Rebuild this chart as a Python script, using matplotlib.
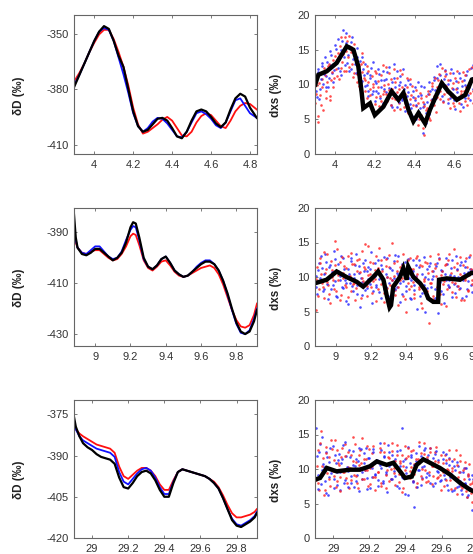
import numpy as np
import matplotlib
matplotlib.use("Agg")
import matplotlib.pyplot as plt
from matplotlib.ticker import FormatStrFormatter

plt.rcParams['font.family'] = ['Liberation Sans', 'DejaVu Sans']

# ---------------- Row 1 (depth ~4 m) ----------------
x1 = [3.896, 3.925, 3.95, 3.975, 4.0, 4.025, 4.05, 4.075, 4.1, 4.125, 4.15, 4.175, 4.2,
      4.225, 4.25, 4.275, 4.3, 4.325, 4.35, 4.375, 4.4, 4.425, 4.45, 4.475, 4.5, 4.525,
      4.55, 4.575, 4.6, 4.625, 4.65, 4.675, 4.7, 4.725, 4.75, 4.775, 4.8, 4.835]
dD1_black = [-379, -372, -366, -360, -354, -349, -346, -347.5, -354, -362, -368, -380, -392,
             -400, -403, -402, -399, -396, -395.5, -397, -401, -405.5, -406.5, -403, -397, -392,
             -391, -392, -395, -398.5, -400.5, -398, -391, -385, -382.5, -384, -390, -395.5]
dD1_red = [-376, -371, -366, -360, -355, -350.5, -348, -348, -353, -360, -368, -378, -390,
           -399, -404, -403, -401, -399, -396.5, -395, -397, -401, -405, -405.5, -403, -398,
           -394.5, -393, -394, -397, -400, -401, -397, -392, -389, -387.5, -388, -391]
dD1_blue = [-378, -372, -366, -360, -354, -349, -347, -348, -354, -363, -372, -382, -393,
            -400, -403, -401, -397.5, -395.5, -396, -398.5, -402, -405.5, -406, -403, -398, -393,
            -392, -393.5, -396, -399.5, -401, -398, -392, -386, -385, -389, -393, -395.5]

dxs1_line_x = [3.9, 3.916, 3.958, 4.008, 4.059, 4.092, 4.117, 4.134, 4.142, 4.176, 4.2, 4.243,
               4.285, 4.319, 4.344, 4.369, 4.394, 4.42, 4.453, 4.478, 4.537, 4.57, 4.613, 4.655,
               4.688, 4.72]
dxs1_line = [10.0, 11.4, 11.9, 13.1, 15.5, 15.0, 12.6, 8.8, 6.6, 7.3, 5.6, 6.8, 9.0, 7.8, 8.8,
             6.4, 4.7, 5.9, 4.4, 6.4, 10.2, 9.0, 7.8, 8.5, 10.7, 11.0]
dxs1_blue = [10.5, 8.2, 11.8, 9.4, 12.6, 10.1, 13.9, 11.2, 9.6, 12.8, 14.3, 10.4, 12.1,
             15.1, 12.4, 13.7, 11.3, 16.2, 14.0, 17.4, 13.1, 15.6, 12.2, 16.8, 14.5,
             12.9, 15.2, 11.0, 13.4, 10.5, 12.3, 9.8, 11.6, 8.4, 10.9, 12.4, 9.1, 7.6,
             10.2, 8.8, 11.5, 9.6, 7.4, 10.7, 8.9, 11.8, 9.5, 7.1, 10.3, 12.9,
             8.6, 6.7, 9.9, 11.2, 7.8, 9.3, 6.2, 8.4, 10.6, 7.2, 5.5, 9.0, 7.7,
             5.1, 8.3, 6.6, 9.8, 3.0, 7.2, 5.9, 8.6, 10.3, 6.9, 9.4, 11.1, 8.0,
             12.6, 9.7, 11.4, 8.3, 10.8, 12.1, 9.2, 7.4, 10.6, 8.7, 11.6, 6.5,
             9.5, 7.9, 10.9, 8.2, 6.8, 9.9, 11.3, 8.5, 10.1, 12.4, 9.3, 11.7]
dxs1_blue_b = [9.1, 12.2, 7.9, 10.8, 13.1, 11.5, 9.7, 13.3, 10.9, 14.8, 11.6, 13.0, 15.7,
               13.5, 16.5, 12.0, 14.9, 17.8, 12.8, 15.9, 14.2, 11.9, 16.1, 13.6, 15.0,
               11.7, 13.9, 12.1, 10.2, 14.0, 11.3, 12.9, 10.0, 9.1, 11.4, 8.7, 13.2, 10.5,
               9.0, 12.2, 8.1, 10.6, 11.9, 9.3, 10.8, 8.2, 12.5, 9.0, 6.8, 11.0,
               9.6, 11.9, 7.5, 10.3, 8.1, 12.3, 9.9, 7.0, 8.9, 10.1, 6.6, 8.2, 9.6,
               7.0, 10.4, 6.1, 8.5, 6.8, 9.7, 4.5, 7.5, 5.8, 9.0, 7.9, 10.7, 9.2,
               11.0, 8.8, 12.9, 10.0, 7.6, 9.9, 11.5, 10.1, 8.0, 12.2, 9.3, 7.7,
               10.5, 8.9, 11.7, 7.2, 9.8, 10.7, 8.1, 12.0, 9.6, 7.8, 10.9, 12.8]
dxs1_red = [7.3, 9.9, 4.6, 8.5, 10.8, 6.4, 11.3, 9.1, 12.6, 8.3, 10.7, 13.5, 11.0,
            12.2, 14.6, 10.8, 16.9, 13.3, 11.9, 14.8, 16.3, 12.5, 15.4, 13.0, 11.6,
            14.1, 10.4, 12.7, 9.3, 11.8, 13.2, 10.6, 8.1, 11.9, 9.4, 7.0, 10.1, 12.0,
            8.2, 9.7, 6.9, 11.3, 8.7, 10.0, 12.5, 7.6, 9.2, 10.8, 8.0, 6.3,
            10.4, 8.9, 7.3, 12.1, 9.6, 6.8, 8.7, 10.9, 5.9, 7.9, 9.8, 4.6, 8.1,
            6.9, 4.2, 8.8, 5.6, 7.5, 2.8, 6.3, 9.1, 5.2, 7.7, 10.2, 8.4, 6.1,
            9.6, 11.5, 7.9, 10.3, 8.6, 12.0, 8.9, 10.7, 6.6, 9.5, 7.3, 11.0,
            8.1, 10.4, 6.2, 9.0, 11.8, 7.6, 9.7, 8.0, 12.2, 10.5, 7.4, 9.6]
dxs1_red_b = [8.6, 5.5, 10.2, 7.1, 9.6, 12.4, 8.0, 10.4, 13.0, 7.7, 11.8, 9.6, 14.1,
              11.2, 13.8, 15.5, 12.4, 14.4, 16.8, 12.0, 13.9, 17.0, 14.7, 11.1, 15.8,
              13.6, 11.5, 9.8, 12.9, 14.6, 10.9, 9.0, 12.6, 10.3, 8.5, 11.2, 9.6, 7.2,
              11.7, 10.5, 8.4, 7.6, 12.8, 9.1, 8.6, 10.1, 11.6, 7.0, 9.4, 12.2,
              7.9, 10.9, 9.3, 6.5, 11.5, 8.3, 7.4, 9.6, 6.0, 10.8, 8.5, 7.0, 5.3,
              9.2, 7.3, 5.0, 8.0, 3.8, 6.9, 8.4, 6.6, 8.7, 4.9, 9.8, 7.1, 10.9,
              8.2, 10.6, 9.0, 12.4, 7.5, 11.2, 9.8, 7.9, 11.6, 8.4, 10.2, 6.9,
              9.4, 11.9, 7.4, 8.6, 10.5, 9.0, 11.4, 7.0, 10.0, 8.8, 12.5, 9.1]
dxs1_depth = np.linspace(3.900, 4.700, 100)
dxs1_depth_b = np.linspace(3.904, 4.696, 100)

# ---------------- Row 2 (depth ~9 m) ----------------
x2 = [8.88, 8.89, 8.9, 8.925, 8.95, 8.975, 9.0, 9.025, 9.05, 9.075, 9.1, 9.125, 9.15, 9.175,
      9.2, 9.215, 9.23, 9.25, 9.275, 9.3, 9.325, 9.35, 9.375, 9.4, 9.425, 9.45, 9.475, 9.5,
      9.525, 9.55, 9.575, 9.6, 9.625, 9.65, 9.675, 9.7, 9.725, 9.75, 9.775, 9.8, 9.825, 9.85,
      9.875, 9.9, 9.917]
dD2_black = [-383, -392, -396, -398.5, -399, -398, -396.5, -396.5, -398, -399.5, -401, -400, -398,
             -394, -388, -386, -386.5, -392, -400, -403.5, -404.5, -403, -400.5, -399.5, -402,
             -405, -406.5, -407.5, -407, -405.5, -404, -402.5, -401.5, -401.5, -402.5, -405, -409,
             -414, -420, -425.5, -429, -430, -429, -425, -420.5]
dD2_red = [-393, -394, -396, -398, -398.5, -397.5, -397, -397, -398.5, -400, -401, -400.5, -398.5,
           -395.5, -391.5, -390.5, -391, -395, -401, -404, -405, -403.5, -401.5, -401, -403,
           -405.5, -407, -407.5, -407, -406, -405, -404, -403.5, -403, -404, -406.5, -410.5,
           -415.5, -420.5, -424.5, -427, -427.5, -426.5, -422.5, -418]
dD2_blue = [-390, -393, -396, -398, -398.5, -397, -395.5, -395.5, -397.5, -399.5, -400.5, -400,
            -397.5, -393, -389, -387.5, -388, -393, -400.5, -403.5, -404.5, -403, -400.5, -399.5,
            -402, -405, -406.5, -407.5, -407, -405.5, -403.5, -402, -401, -401, -402.5, -405,
            -409, -414.5, -420.5, -426, -429.5, -430, -428.5, -424, -420]

dxs2_line_x = [8.881, 8.947, 9.004, 9.06, 9.118, 9.155, 9.212, 9.24, 9.27, 9.288, 9.305, 9.313,
               9.326, 9.364, 9.383, 9.402, 9.411, 9.44, 9.478, 9.506, 9.525, 9.553, 9.581,
               9.586, 9.629, 9.705, 9.771, 9.8]
dxs2_line = [9.1, 9.6, 10.8, 10.0, 9.3, 8.6, 10.0, 10.8, 9.6, 7.4, 5.6, 5.9, 8.6, 10.0, 11.3,
             9.6, 11.5, 10.0, 9.1, 8.1, 6.9, 6.4, 6.4, 9.6, 9.8, 9.6, 10.6, 10.6]
dxs2_blue = [10.2, 7.6, 12.1, 9.4, 11.3, 8.2, 13.4, 9.9, 6.8, 11.7,
             10.5, 8.9, 12.6, 7.3, 10.8, 9.6, 13.0, 8.4, 11.1, 9.2,
             6.1, 10.4, 12.3, 8.7, 9.9, 11.8, 7.5, 10.6, 5.6, 9.3,
             12.0, 8.1, 10.9, 11.5, 9.0, 13.6, 7.9, 10.2, 8.6, 12.4,
             9.7, 6.9, 11.2, 8.3, 10.5, 12.7, 9.1, 7.2, 11.0, 9.8,
             13.2, 8.5, 10.3, 6.4, 11.9, 9.4, 12.2, 8.0, 10.7, 7.0,
             9.5, 12.5, 8.8, 10.1, 5.3, 11.4, 9.0, 7.7, 12.9, 10.0,
             8.4, 11.6, 6.6, 9.7, 10.9, 8.2, 12.1, 4.8, 9.3, 11.0,
             7.6, 10.4, 12.8, 8.9, 9.6, 11.3, 7.1, 10.2, 13.1, 8.7,
             9.9, 11.7, 6.9, 10.6, 12.3, 8.3, 9.4, 11.1, 7.8, 10.5]
dxs2_blue_b = [8.6, 11.0, 9.8, 13.1, 7.9, 10.5, 12.2, 9.0, 11.4, 8.3,
               10.7, 13.7, 9.4, 7.1, 11.9, 10.1, 8.5, 12.8, 9.6, 6.5,
               11.2, 9.1, 12.7, 8.0, 10.4, 13.3, 8.8, 11.6, 9.9, 7.4,
               10.8, 12.5, 8.4, 9.7, 11.1, 6.3, 10.3, 12.1, 8.9, 10.9,
               7.8, 11.7, 9.3, 12.9, 8.6, 10.0, 6.0, 11.3, 9.5, 12.3,
               8.2, 10.6, 13.0, 9.1, 7.5, 11.5, 10.2, 8.7, 12.6, 9.8,
               6.8, 10.9, 8.1, 11.8, 9.4, 12.4, 7.3, 10.5, 8.9, 5.0,
               11.2, 9.7, 12.0, 8.5, 10.1, 7.0, 11.6, 9.2, 12.7, 8.0,
               10.8, 6.2, 9.5, 11.9, 8.6, 10.3, 12.5, 9.0, 7.7, 11.1,
               10.0, 8.4, 12.2, 9.6, 11.4, 7.2, 10.7, 12.9, 8.8, 11.0]
dxs2_red = [5.2, 11.4, 8.3, 12.8, 9.1, 7.0, 10.6, 13.3, 8.8, 6.3,
            11.0, 9.5, 15.2, 8.0, 10.3, 12.2, 7.4, 9.8, 11.6, 8.6,
            13.1, 10.0, 7.9, 11.9, 9.2, 6.7, 12.5, 8.9, 10.7, 13.8,
            9.4, 11.1, 7.2, 14.5, 10.4, 8.5, 12.0, 9.7, 6.5, 11.3,
            14.2, 9.0, 10.9, 7.7, 12.6, 8.4, 11.5, 9.9, 15.0, 10.1,
            8.1, 12.3, 6.0, 9.6, 11.8, 7.3, 10.5, 5.0, 9.2, 12.7,
            8.7, 11.2, 7.0, 10.0, 13.0, 8.3, 6.2, 11.6, 9.4, 7.8,
            12.1, 3.4, 9.1, 10.8, 6.8, 11.9, 8.5, 13.4, 7.5, 10.3,
            9.0, 11.7, 5.8, 12.4, 8.6, 10.6, 9.3, 14.0, 7.1, 11.0,
            8.2, 12.9, 10.2, 6.6, 9.8, 11.4, 8.0, 13.2, 9.6, 10.7]
dxs2_red_b = [9.7, 7.2, 12.0, 10.4, 8.6, 13.6, 11.1, 9.3, 7.5, 12.3,
              10.0, 8.2, 11.7, 14.0, 9.5, 6.6, 12.9, 10.6, 8.9, 11.3,
              7.1, 10.2, 13.5, 9.0, 11.9, 8.4, 10.8, 12.6, 6.9, 9.8,
              11.5, 14.8, 8.7, 10.3, 12.2, 7.7, 9.4, 11.0, 13.1, 8.3,
              10.7, 12.4, 9.2, 6.4, 11.6, 10.0, 13.2, 8.8, 9.6, 12.0,
              7.4, 10.9, 8.5, 11.4, 9.9, 13.4, 6.8, 10.1, 12.5, 8.2,
              11.1, 9.3, 7.6, 12.8, 10.4, 8.6, 11.8, 5.5, 9.7, 12.2,
              8.0, 10.6, 13.0, 9.1, 7.3, 11.3, 10.2, 8.9, 12.6, 6.1,
              10.8, 9.4, 11.9, 8.3, 13.3, 10.0, 7.8, 11.5, 9.2, 12.1,
              8.7, 10.5, 6.7, 11.8, 9.6, 12.7, 8.1, 10.3, 11.2, 9.0]
dxs2_depth = np.linspace(8.885, 9.780, 100)
dxs2_depth_b = np.linspace(8.889, 9.776, 100)

# ---------------- Row 3 (depth ~29 m) ----------------
x3 = [28.9, 28.91, 28.93, 28.95, 28.975, 29.0, 29.025, 29.05, 29.075, 29.1, 29.125, 29.15,
      29.175, 29.2, 29.225, 29.25, 29.275, 29.3, 29.325, 29.35, 29.375, 29.4, 29.425, 29.45,
      29.475, 29.5, 29.525, 29.55, 29.575, 29.6, 29.625, 29.65, 29.675, 29.7, 29.725, 29.75,
      29.775, 29.8, 29.825, 29.85, 29.875, 29.9, 29.912]
dD3_black = [-376, -379.5, -383, -385.5, -387, -388, -389.5, -390.5, -391, -391.5, -393, -398,
             -401.5, -402, -400, -397.5, -396, -395.5, -396.5, -399, -402.5, -405, -405, -400,
             -396, -395, -395.5, -396, -396.5, -397, -397.5, -398.5, -400, -402, -405.5, -409.5,
             -413.5, -415.5, -416, -415, -414, -412.5, -411]
dD3_red = [-378, -380.5, -382, -383, -384, -385, -386, -386.5, -387, -387.5, -389, -394, -397.5,
           -398.5, -397, -395.5, -394.5, -394.5, -395.5, -397.5, -400.5, -402.5, -402.5, -399,
           -396, -395, -395.5, -396, -396.5, -397, -397.5, -398.5, -399.5, -401.5, -404.5, -408,
           -411, -412.5, -412.5, -412, -411.5, -410.5, -409.5]
dD3_blue = [-377, -380.5, -383, -384.5, -385.5, -386.5, -387.5, -388, -388.5, -389, -390.5, -396,
            -399.5, -400.5, -398.5, -396.5, -395, -394.5, -395.5, -398, -401.5, -404, -404,
            -399.5, -396, -395, -395.5, -396, -396.5, -397, -397.5, -398.5, -400, -402, -405.5,
            -409.5, -413, -415, -415.5, -414.5, -413.5, -412, -410.5]

dxs3_line_x = [28.899, 28.927, 28.964, 29.019, 29.093, 29.148, 29.204, 29.241, 29.296, 29.333,
               29.37, 29.398, 29.435, 29.462, 29.499, 29.536, 29.591, 29.647, 29.702, 29.758,
               29.79]
dxs3_line = [8.45, 8.7, 10.15, 9.66, 9.9, 9.9, 10.4, 11.1, 10.6, 10.9, 9.66, 8.7, 8.9, 10.6,
             11.4, 10.9, 10.15, 9.2, 8.0, 7.0, 6.6]
dxs3_blue = [16.0, 9.2, 12.4, 7.8, 14.6, 10.3, 6.5, 11.7, 8.9, 13.1,
             10.0, 7.2, 12.0, 9.5, 11.3, 6.9, 10.8, 13.5, 8.4, 11.9,
             9.7, 12.8, 8.0, 10.6, 7.4, 11.4, 9.1, 13.0, 10.2, 8.6,
             12.3, 9.9, 7.1, 11.6, 10.4, 8.8, 12.9, 9.3, 11.0, 7.6,
             13.8, 10.1, 8.3, 11.8, 9.6, 6.7, 12.5, 10.7, 8.5, 11.2,
             9.0, 12.6, 7.3, 10.5, 16.0, 8.7, 11.5, 9.4, 6.2, 10.9,
             12.1, 8.1, 4.5, 11.1, 9.8, 13.3, 7.7, 10.3, 12.7, 8.9,
             11.4, 9.2, 13.0, 10.6, 7.5, 12.2, 9.7, 11.3, 8.2, 10.0,
             12.4, 8.6, 10.8, 7.0, 11.6, 9.3, 6.8, 10.4, 8.4, 11.0,
             7.6, 9.5, 6.4, 10.2, 8.0, 5.9, 9.1, 7.2, 4.0, 8.5]
dxs3_blue_b = [11.9, 7.1, 13.6, 9.8, 10.7, 8.2, 12.5, 6.2, 11.0, 9.4,
               13.3, 8.6, 10.9, 7.7, 12.2, 9.6, 11.5, 8.0, 13.9, 10.3,
               7.4, 11.8, 9.0, 12.6, 10.5, 8.3, 11.2, 6.8, 12.9, 9.5,
               10.8, 13.1, 8.7, 11.6, 7.3, 10.1, 12.4, 9.2, 11.3, 8.4,
               10.6, 12.8, 7.9, 11.9, 9.3, 13.5, 10.4, 8.6, 12.1, 9.7,
               11.4, 7.6, 10.0, 12.7, 8.8, 11.1, 6.4, 10.3, 13.2, 9.0,
               11.7, 8.2, 10.6, 12.3, 7.4, 9.9, 11.9, 8.7, 10.5, 13.0,
               9.4, 12.0, 8.0, 10.9, 11.6, 7.9, 12.6, 9.5, 10.2, 8.4,
               11.5, 9.1, 12.2, 7.7, 10.6, 8.9, 11.1, 6.9, 9.8, 7.4,
               10.4, 8.3, 6.9, 9.5, 7.8, 10.2, 6.3, 8.6, 7.1, 9.2]
dxs3_red = [8.4, 12.7, 7.0, 15.5, 10.5, 6.3, 13.2, 9.4, 11.8, 7.6,
            12.9, 9.0, 14.2, 8.2, 10.9, 6.8, 11.7, 9.6, 13.6, 8.7,
            10.3, 7.3, 12.1, 14.6, 9.2, 11.0, 7.9, 10.6, 12.8, 8.5,
            11.4, 9.8, 13.4, 7.5, 10.1, 12.3, 8.9, 6.9, 11.2, 9.5,
            13.0, 8.0, 10.8, 12.5, 7.2, 9.9, 11.6, 8.6, 13.7, 10.2,
            7.7, 12.0, 9.3, 11.1, 6.6, 10.4, 13.3, 8.8, 11.9, 9.7,
            12.6, 8.3, 10.7, 7.4, 11.5, 13.9, 9.0, 10.0, 12.2, 8.1,
            11.3, 9.5, 13.1, 7.8, 10.5, 12.4, 8.7, 11.0, 9.2, 6.9,
            10.9, 12.0, 8.4, 9.8, 11.4, 7.1, 10.2, 8.9, 12.7, 6.4,
            9.6, 11.2, 7.3, 8.5, 10.1, 6.0, 9.0, 7.8, 5.2, 8.3]
dxs3_red_b = [10.5, 8.0, 13.8, 9.2, 11.6, 6.9, 12.3, 10.1, 8.5, 14.2,
              9.7, 11.3, 7.4, 12.8, 10.6, 8.8, 13.0, 9.5, 11.9, 7.9,
              12.5, 10.2, 8.4, 11.1, 13.6, 9.0, 7.2, 12.0, 10.8, 14.5,
              8.6, 11.5, 9.9, 12.9, 7.8, 10.4, 13.3, 8.9, 11.0, 9.6,
              12.4, 7.5, 10.7, 13.8, 9.1, 11.8, 8.3, 10.0, 12.6, 9.4,
              11.2, 13.5, 8.1, 10.9, 12.1, 7.3, 9.8, 11.6, 13.1, 8.7,
              10.3, 12.8, 9.3, 11.4, 7.9, 10.8, 12.3, 8.5, 13.7, 9.9,
              11.7, 8.2, 12.5, 10.4, 9.0, 11.1, 13.2, 8.8, 10.1, 12.0,
              9.5, 7.6, 11.3, 10.0, 12.7, 8.4, 9.7, 11.5, 7.2, 10.6,
              8.9, 12.1, 7.5, 9.9, 11.0, 6.8, 9.3, 10.7, 6.5, 8.0]
dxs3_depth = np.linspace(28.905, 29.775, 100)
dxs3_depth_b = np.linspace(28.909, 29.771, 100)

rows = [
    dict(x=x1, k=dD1_black, r=dD1_red, b=dD1_blue, xlim=(3.896, 4.836), ylim=(-415, -340),
         yt=[-350, -380, -410], xt=[4, 4.2, 4.4, 4.6, 4.8],
         lx=dxs1_line_x, ly=dxs1_line,
         sd=(dxs1_depth, dxs1_depth_b), sb=(dxs1_blue, dxs1_blue_b), sr=(dxs1_red, dxs1_red_b),
         rxlim=(3.899, 4.84)),
    dict(x=x2, k=dD2_black, r=dD2_red, b=dD2_blue, xlim=(8.88, 9.917), ylim=(-434.7, -380.4),
         yt=[-390, -410, -430], xt=[9, 9.2, 9.4, 9.6, 9.8],
         lx=dxs2_line_x, ly=dxs2_line,
         sd=(dxs2_depth, dxs2_depth_b), sb=(dxs2_blue, dxs2_blue_b), sr=(dxs2_red, dxs2_red_b),
         rxlim=(8.881, 9.944)),
    dict(x=x3, k=dD3_black, r=dD3_red, b=dD3_blue, xlim=(28.9, 29.913), ylim=(-420, -369.8),
         yt=[-375, -390, -405, -420], xt=[29, 29.2, 29.4, 29.6, 29.8],
         lx=dxs3_line_x, ly=dxs3_line,
         sd=(dxs3_depth, dxs3_depth_b), sb=(dxs3_blue, dxs3_blue_b), sr=(dxs3_red, dxs3_red_b),
         rxlim=(28.899, 29.935)),
]

fig = plt.figure(figsize=(4.73, 5.54), dpi=100)
W, H = 473.0, 554.0
row_px = [(15, 154), (208, 346), (400, 538)]
spine_c = '#666666'
txt_c = '#333333'


def style(ax):
    for s in ax.spines.values():
        s.set_color(spine_c)
        s.set_linewidth(0.8)
    ax.tick_params(direction='in', length=2.5, width=0.6, color=spine_c,
                   labelsize=8, labelcolor=txt_c, top=True, right=True, pad=4)
    ax.xaxis.set_major_formatter(FormatStrFormatter('%g'))
    ax.yaxis.set_major_formatter(FormatStrFormatter('%g'))


for (top, bot), d in zip(row_px, rows):
    y0 = 1 - bot / H
    h = (bot - top) / H
    axl = fig.add_axes([74 / W, y0, 183 / W, h])
    axl.plot(d['x'], d['r'], color='#ff1010', lw=1.3)
    axl.plot(d['x'], d['b'], color='#1010ff', lw=1.3)
    axl.plot(d['x'], d['k'], color='black', lw=1.6)
    axl.set_xlim(*d['xlim'])
    axl.set_ylim(*d['ylim'])
    axl.set_xticks(d['xt'])
    axl.set_yticks(d['yt'])
    style(axl)
    axl.set_ylabel('δD (‰)', fontsize=8.5, fontweight='bold', color='#222222')
    axl.yaxis.set_label_coords(-0.268, 0.42)

    axr = fig.add_axes([315 / W, y0, 187 / W, h])
    for dep, yb, yr in zip(d['sd'], d['sb'], d['sr']):
        axr.scatter(dep, yb, s=3.5, color='#2020ff', linewidths=0, alpha=0.8)
        axr.scatter(dep, yr, s=3.5, color='#ff2020', linewidths=0, alpha=0.8)
    axr.plot(d['lx'], d['ly'], color='black', lw=3.2, solid_joinstyle='miter')
    axr.set_xlim(*d['rxlim'])
    axr.set_ylim(0, 20)
    axr.set_xticks(d['xt'])
    axr.set_yticks([0, 5, 10, 15, 20])
    style(axr)
    axr.set_ylabel('dxs (‰)', fontsize=8.5, fontweight='bold', color='#222222')
    axr.yaxis.set_label_coords(-0.178, 0.42)

fig.savefig('out.png', dpi=100)
